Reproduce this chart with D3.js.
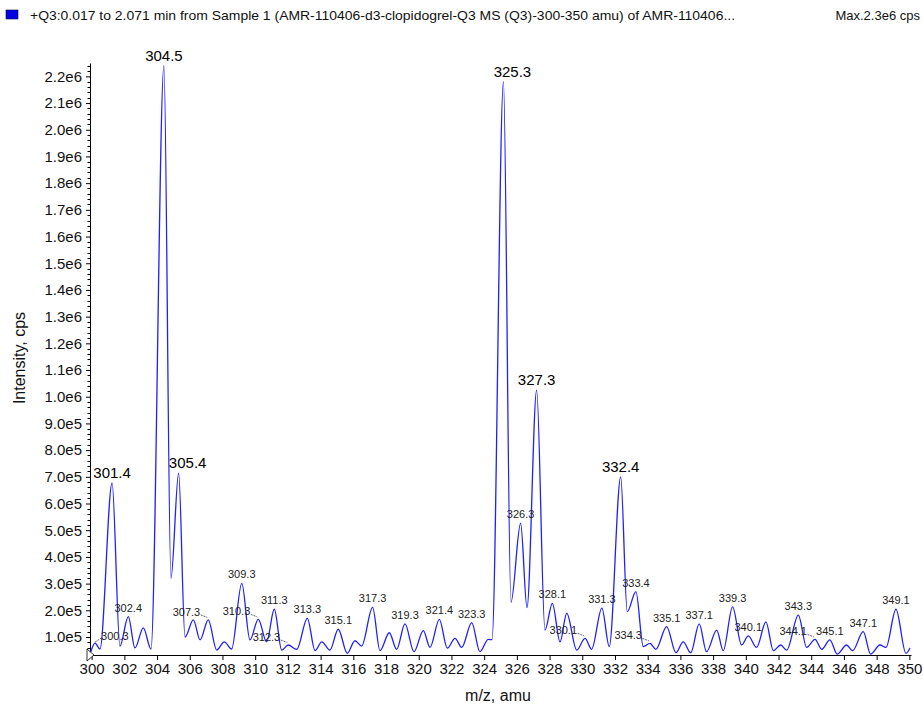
<!DOCTYPE html>
<html>
<head>
<meta charset="utf-8">
<script src="https://cdnjs.cloudflare.com/ajax/libs/d3/7.8.5/d3.min.js"></script>
<style>
  body { margin: 0; background: #fff; }
  svg { font-family: "Liberation Sans", Arial, sans-serif; }
  .axis path, .axis line { stroke: #000; }
  .axis text { font-size: 15px; fill: #111; }
</style>
</head>
<body>
<svg id="chart"></svg>
<script>
// profile trace (extrema of the spectrum)
var mz = [299.95, 300.21, 300.51, 301.25, 301.73, 302.24, 302.65, 303.16, 303.63, 304.42,
  304.85, 305.32, 305.71, 306.22, 306.63, 307.13, 307.65, 308.11, 308.56, 309.18,
  309.68, 310.19, 310.70, 311.17, 311.62, 312.02, 312.54, 313.19, 313.66, 314.07,
  314.57, 315.08, 315.63, 316.10, 316.51, 317.18, 317.63, 318.20, 318.65, 319.16,
  319.71, 320.28, 320.69, 321.26, 321.75, 322.22, 322.63, 323.24, 323.74, 324.25,
  324.48, 325.18, 325.64, 326.23, 326.62, 327.21, 327.72, 328.17, 328.64, 329.05,
  329.66, 330.17, 330.57, 331.20, 331.65, 332.35, 332.75, 333.28, 333.73, 334.14,
  334.50, 335.16, 335.73, 336.17, 336.63, 337.15, 337.60, 338.22, 338.62, 339.19,
  339.74, 340.15, 340.66, 341.23, 341.68, 342.13, 342.50, 343.21, 343.72, 344.23,
  344.64, 345.14, 345.59, 346.16, 346.53, 347.18, 347.63, 348.20, 348.57, 349.18,
  349.79, 350.04];

var cps = [45000, 77000, 55000, 677000, 66000, 176000, 59000, 134000, 55000, 2240000,
  320000, 714000, 100000, 164000, 89000, 164000, 51000, 82000, 55000, 301000,
  89000, 166000, 82000, 204000, 51000, 70000, 54000, 170000, 49000, 82000,
  51000, 129000, 39000, 86000, 66000, 211000, 49000, 116000, 54000, 149000,
  45000, 124000, 61000, 166000, 58000, 95000, 61000, 154000, 45000, 91000,
  90000, 2180000, 230000, 526000, 210000, 1025000, 126000, 226000, 82000, 189000,
  51000, 95000, 54000, 208000, 64000, 700000, 195000, 270000, 64000, 76000,
  54000, 139000, 41000, 82000, 41000, 149000, 45000, 126000, 49000, 213000,
  70000, 104000, 61000, 157000, 49000, 70000, 51000, 182000, 61000, 91000,
  54000, 89000, 36000, 70000, 49000, 120000, 36000, 70000, 61000, 204000,
  39000, 59000];

// peak annotations
var labelText = ["300.3", "301.4", "302.4", "304.5", "305.4", "307.3", "309.3", "310.3", "311.3", "312.3",
  "313.3", "315.1", "317.3", "319.3", "321.4", "323.3", "325.3", "326.3", "327.3", "328.1",
  "330.1", "331.3", "332.4", "333.4", "334.3", "335.1", "337.1", "339.3", "340.1", "343.3",
  "344.1", "345.1", "347.1", "349.1"];
var labelPeakMz = [300.21, 301.25, 302.24, 304.42, 305.32, 307.13, 309.18, 310.19, 311.17, 312.02,
  313.19, 315.08, 317.18, 319.16, 321.26, 323.24, 325.18, 326.23, 327.21, 328.17,
  330.17, 331.20, 332.35, 333.28, 334.14, 335.16, 337.15, 339.19, 340.15, 343.21,
  344.23, 345.14, 347.18, 349.18];

var bigLabels = ["301.4", "304.5", "305.4", "325.3", "327.3", "332.4"];
var leftLeader = ["307.3", "310.3", "312.3", "330.1", "334.3", "344.1"];
var rightLeader = ["300.3"];
var nudge = {"305.4": 9, "325.3": 9};

var xTicks = d3.range(300, 351, 2);
var yTicks = d3.range(1, 23).map(function(i) { return i * 1e5; });
var yMinor = d3.range(1, 113).map(function(i) { return i * 2e4; });

var legendText = "+Q3:0.017 to 2.071 min from Sample 1 (AMR-110406-d3-clopidogrel-Q3 MS (Q3)-300-350 amu) of AMR-110406...";
var maxText = "Max.2.3e6 cps";

var width = 923, height = 706;
var plotLeft = 90, plotRight = 911, plotTop = 63, plotBottom = 655;

var svg = d3.select("#chart")
    .attr("width", width)
    .attr("height", height);

var x = d3.scaleLinear().domain([299.9, 350.1]).range([plotLeft, plotRight]);
var y = d3.scaleLinear().domain([32600, 2250000]).range([plotBottom, plotTop]);

var data = mz.map(function(m, i) { return {mz: m, v: cps[i]}; });

// legend line at top
svg.append("rect")
    .attr("x", 6).attr("y", 10)
    .attr("width", 12).attr("height", 9)
    .attr("fill", "#0000e0")
    .attr("stroke", "#000060")
    .attr("stroke-width", 0.6);
svg.append("text")
    .attr("x", 30).attr("y", 20)
    .attr("font-size", 13)
    .attr("fill", "#111")
    .attr("textLength", 705)
    .attr("lengthAdjust", "spacingAndGlyphs")
    .text(legendText);
svg.append("text")
    .attr("x", 920).attr("y", 20)
    .attr("font-size", 13)
    .attr("text-anchor", "end")
    .attr("fill", "#111")
    .text(maxText);

// minor y ticks
svg.append("g")
    .selectAll("line")
    .data(yMinor.filter(function(v) { return y(v) >= plotTop && y(v) <= plotBottom && v % 1e5 !== 0; }))
    .enter().append("line")
    .attr("x1", plotLeft - 2.5).attr("x2", plotLeft)
    .attr("y1", function(d) { return Math.round(y(d)) + 0.5; })
    .attr("y2", function(d) { return Math.round(y(d)) + 0.5; })
    .attr("stroke", "#000");

var yAxis = d3.axisLeft(y)
    .tickValues(yTicks)
    .tickSize(4)
    .tickSizeOuter(0)
    .tickPadding(4)
    .tickFormat(function(v) {
        if (v >= 1e6) return (v / 1e6).toFixed(1) + "e6";
        return (v / 1e5).toFixed(1) + "e5";
    });
svg.append("g")
    .attr("class", "axis")
    .attr("transform", "translate(" + plotLeft + ",0)")
    .call(yAxis);

var xAxis = d3.axisBottom(x)
    .tickValues(xTicks)
    .tickSize(5)
    .tickSizeOuter(0)
    .tickPadding(3)
    .tickFormat(d3.format("d"));
svg.append("g")
    .attr("class", "axis")
    .attr("transform", "translate(0," + plotBottom + ")")
    .call(xAxis);

// axis titles
svg.append("text")
    .attr("x", 498).attr("y", 701)
    .attr("text-anchor", "middle")
    .attr("font-size", 16)
    .attr("fill", "#111")
    .text("m/z, amu");
svg.append("text")
    .attr("transform", "translate(25,358) rotate(-90)")
    .attr("text-anchor", "middle")
    .attr("font-size", 16)
    .attr("fill", "#111")
    .text("Intensity, cps");

// origin marker
svg.append("path")
    .attr("d", "M" + (plotLeft - 3) + "," + (plotBottom - 6) + "L" + (plotLeft + 4) + "," + plotBottom + "L" + (plotLeft - 3) + "," + (plotBottom + 6) + "Z")
    .attr("fill", "#fff")
    .attr("stroke", "#000")
    .attr("stroke-width", 0.8);

// spectrum
svg.append("clipPath").attr("id", "plot")
    .append("rect")
    .attr("x", plotLeft).attr("y", plotTop - 10)
    .attr("width", plotRight - plotLeft + 2).attr("height", plotBottom - plotTop + 10);

var line = d3.line()
    .x(function(d) { return x(d.mz); })
    .y(function(d) { return y(d.v); })
    .curve(d3.curveMonotoneX);

svg.append("path")
    .datum(data)
    .attr("clip-path", "url(#plot)")
    .attr("fill", "none")
    .attr("stroke", "#1f1fff")
    .attr("stroke-width", 1.3)
    .attr("d", line);

// peak labels
function peakAt(m) {
    var best = data[0];
    data.forEach(function(d) { if (Math.abs(d.mz - m) < Math.abs(best.mz - m)) best = d; });
    return best;
}

var labels = svg.append("g");
labelText.forEach(function(t, i) {
    var p = peakAt(labelPeakMz[i]);
    var px = x(p.mz), py = y(p.v);
    var big = bigLabels.indexOf(t) >= 0;
    if (leftLeader.indexOf(t) >= 0) {
        labels.append("line")
            .attr("x1", px - 7.5).attr("y1", py - 5)
            .attr("x2", px - 1).attr("y2", py - 2.5)
            .attr("stroke", "#333").attr("stroke-width", 0.8)
            .attr("stroke-dasharray", "2,1");
        labels.append("text")
            .attr("x", px - 8).attr("y", py - 4)
            .attr("text-anchor", "end")
            .attr("font-size", 11)
            .attr("fill", "#222")
            .text(t);
    } else if (rightLeader.indexOf(t) >= 0) {
        labels.append("line")
            .attr("x1", px).attr("y1", py - 1)
            .attr("x2", px + 6).attr("y2", py - 5)
            .attr("stroke", "#333").attr("stroke-width", 0.8)
            .attr("stroke-dasharray", "2,1");
        labels.append("text")
            .attr("x", px + 6).attr("y", py - 3)
            .attr("font-size", 11)
            .attr("fill", "#222")
            .text(t);
    } else {
        labels.append("text")
            .attr("x", px + (nudge[t] || 0))
            .attr("y", py - 5)
            .attr("text-anchor", "middle")
            .attr("font-size", big ? 15 : 11)
            .attr("fill", big ? "#000" : "#222")
            .text(t);
    }
});
</script>
</body>
</html>
